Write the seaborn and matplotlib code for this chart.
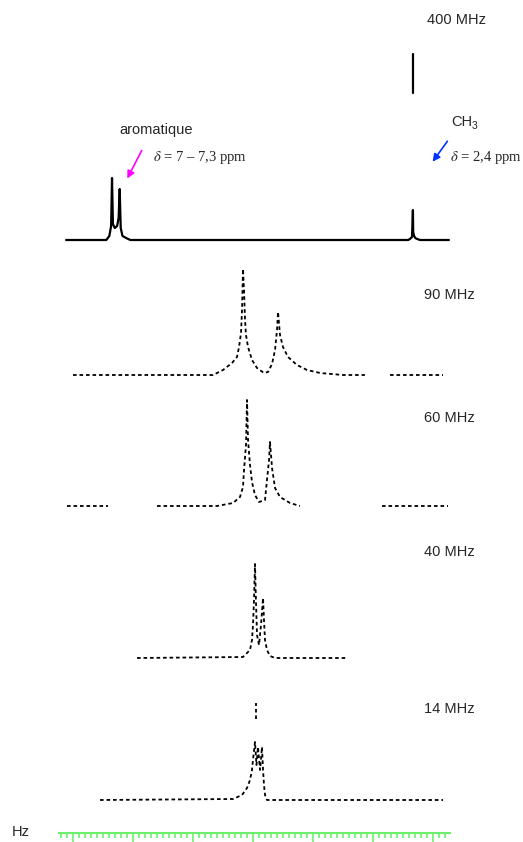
import numpy as np
import pandas as pd
import matplotlib
matplotlib.use("Agg")
import matplotlib.pyplot as plt
from matplotlib.ticker import MultipleLocator
import seaborn as sns

# Spectres RMN schématiques (toluène) à différentes fréquences
# abscisse en Hz (0 = première grande graduation de la règle), intensité en u.a.

# 400 MHz : massif aromatique + CH3 (le haut du pic CH3 est tracé à part)
hz_400 = [-112, -45, -40, -37, -35.5, -34, -31, -27, -24.5, -22.7, -21, -18, -12, -5,
          458, 461, 464.5, 466, 466.5, 468, 470, 473, 478, 526]
int_400 = [0, 0, 4, 14, 62, 16, 12, 14, 22, 51, 12, 4, 2, 0,
           0, 1, 3, 30, 8, 4, 2, 1, 0, 0]
seg_400 = [0] * 24
hz_400_sommet = [466, 466]
int_400_sommet = [147, 186]

# 90 MHz
hz_90 = [-100.5, 132.8, 149.5, 164.5, 172.8, 176.2, 179.5, 181.2, 182.8, 184.5, 186.2,
         187.8, 191.2, 197.8, 206.2, 217.8, 224.5, 231.2, 236.2, 239.5, 241.2, 244.5,
         249.5, 257.8, 272.8, 289.5, 311.2, 349.5, 386, 428, 516.2]
int_90 = [0, 0, 5, 12, 18, 28, 42, 65, 106, 85, 55,
          40, 28, 15, 7, 2, 3, 11, 25, 45, 63, 40,
          28, 18, 10, 5, 2, 0, 0, 0, 0]
seg_90 = [0] * 29 + [1, 1]

# 60 MHz
hz_60 = [-110.5, -42.2,
         39.5, 139.5, 166.2, 177.8, 182.8, 184.5, 187.8, 189.5, 191.2, 194.5, 197.8,
         202.8, 209.5, 219.5, 222.8, 226.2, 227.8, 231.2, 236.2, 244.5, 261.2, 277.8,
         414.5, 524.5]
int_60 = [0, 0,
          0, 0, 3, 9, 19, 36, 61, 106, 66, 41, 24,
          11, 4, 6, 26, 46, 64, 38, 18, 9, 3, 0,
          0, 0]
seg_60 = [0, 0] + [1] * 22 + [2, 2]

# 40 MHz
hz_40 = [6.2, 182.8, 194.5, 197.8, 199.5, 201.2, 202.8, 204.5, 206.2, 209.5, 212.8,
         216.2, 217.8, 219.5, 222.8, 227.8, 236.2, 357.8]
int_40 = [0, 1, 8, 18, 33, 58, 94, 55, 23, 13, 33,
          60, 38, 18, 8, 2, 0, 0]
seg_40 = [0] * 18

# 14 MHz (le haut du pic principal est tracé à part)
hz_14 = [-55.5, 166.2, 181.2, 189.5, 194.5, 197.8, 199.5, 202.8, 205.3, 207.8, 211.2,
         214.5, 216.2, 217.8, 219.5, 222.8, 516.2]
int_14 = [0, 1, 5, 12, 20, 30, 40, 58, 35, 53, 30,
          53, 30, 15, 5, 0, 0]
seg_14 = [0] * 17
hz_14_sommet = [204.5, 204.5]
int_14_sommet = [81, 97]

frequences = ["400 MHz", "90 MHz", "60 MHz", "40 MHz", "14 MHz"]

W, H = 523, 842
XMIN, XMAX = -222.2, 649.5   # bords gauche / droit de la figure en Hz

sns.set_theme(style="white")
plt.rcParams["font.family"] = ["Liberation Sans", "DejaVu Sans"]
plt.rcParams["mathtext.fontset"] = "stix"

fig = plt.figure(figsize=(W / 100, H / 100), dpi=100)


def spectre(hz, inten, seg):
    return pd.DataFrame({"Hz": hz, "intensite": inten, "troncon": seg})


def bande(base_px, haut=200, pad=5):
    ax = fig.add_axes([0, 1 - (base_px + pad) / H, 1, haut / H])
    ax.set_xlim(XMIN, XMAX)
    ax.set_ylim(-pad, haut - pad)
    ax.axis("off")
    return ax


def texte(x, y, s, **kw):
    fig.text(x / W, 1 - y / H, s, va="center", ha="left", **kw)


df_400 = pd.concat([spectre(hz_400, int_400, seg_400),
                    spectre(hz_400_sommet, int_400_sommet, [1, 1])])
df_14 = pd.concat([spectre(hz_14, int_14, seg_14),
                   spectre(hz_14_sommet, int_14_sommet, [1, 1])])

pointille = (0, (2, 1.6))
panneaux = [
    (df_400, 240, 20, "-", 1.6),
    (spectre(hz_90, int_90, seg_90), 375, 295, pointille, 1.3),
    (spectre(hz_60, int_60, seg_60), 506, 418, pointille, 1.3),
    (spectre(hz_40, int_40, seg_40), 658, 552, pointille, 1.3),
    (df_14, 800, 709, pointille, 1.3),
]

for (df, base, y_lab, ls, lw), freq in zip(panneaux, frequences):
    ax = bande(base)
    sns.lineplot(data=df, x="Hz", y="intensite", units="troncon", estimator=None,
                 sort=False, color="black", linewidth=lw, linestyle=ls, ax=ax,
                 legend=False)
    texte(427 if freq == "400 MHz" else 424, y_lab, freq, fontsize=10.5)

# annotations du spectre à 400 MHz
texte(119, 130, "aromatique", fontsize=10.5)
texte(153, 157, r"$\delta$ = 7 – 7,3 ppm", fontsize=10.5, family="Liberation Serif")
texte(451, 122, "CH", fontsize=10.5)
texte(472, 126, "3", fontsize=7.5)
texte(450, 157, r"$\delta$ = 2,4 ppm", fontsize=10.5, family="Liberation Serif")

fig.add_artist(matplotlib.patches.FancyArrowPatch(
    (143 / W, 1 - 148 / H), (126 / W, 1 - 181 / H), transform=fig.transFigure,
    arrowstyle="-|>", mutation_scale=11, color="#ff00ff", lw=1.2))
fig.add_artist(matplotlib.patches.FancyArrowPatch(
    (449 / W, 1 - 139 / H), (431 / W, 1 - 164 / H), transform=fig.transFigure,
    arrowstyle="-|>", mutation_scale=11, color="#0033ff", lw=1.2))

# règle graduée en Hz
vert = "#6cf06c"
axr = fig.add_axes([59 / W, 1 - 842 / H, 391 / W, 9 / H])
axr.set_xlim((59 - 133.3) / 0.6, (450 - 133.3) / 0.6)
axr.set_ylim(0, 1)
for s in ["left", "right", "bottom"]:
    axr.spines[s].set_visible(False)
axr.spines["top"].set_color(vert)
axr.spines["top"].set_linewidth(1.5)
axr.patch.set_alpha(0)
axr.xaxis.tick_top()
axr.xaxis.set_major_locator(MultipleLocator(100))
axr.xaxis.set_minor_locator(MultipleLocator(10))
axr.tick_params(axis="x", which="both", direction="in", colors=vert, width=1.2,
                labeltop=False, labelbottom=False)
axr.tick_params(axis="x", which="major", length=6.5)
axr.tick_params(axis="x", which="minor", length=3.8)
axr.set_yticks([])
texte(12, 832, "Hz", fontsize=10.5)

fig.savefig("out.png", dpi=100)
